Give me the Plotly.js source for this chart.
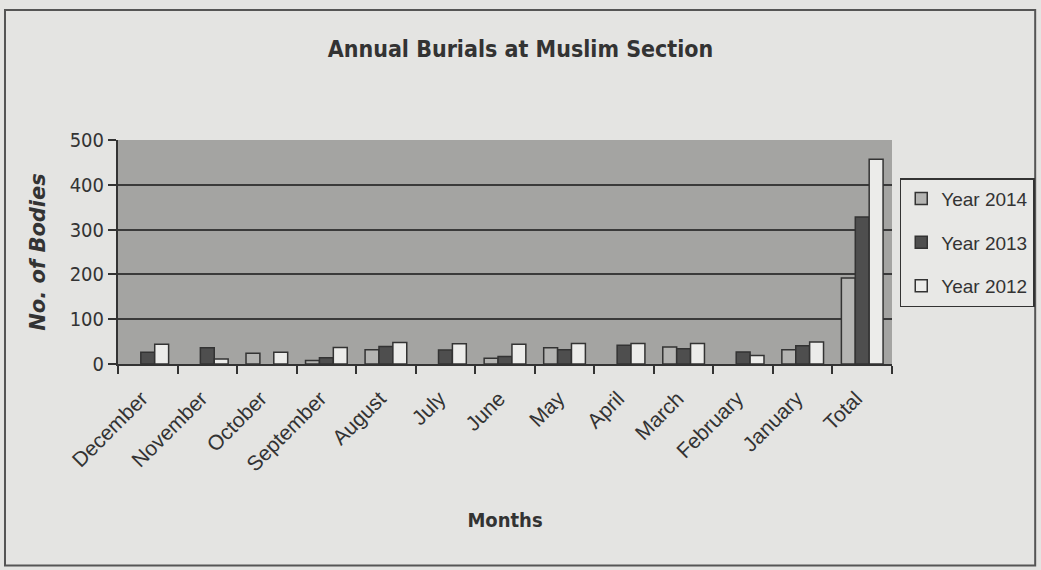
<!DOCTYPE html>
<html>
<head>
<meta charset="utf-8">
<script src="https://cdn.plot.ly/plotly-3.0.1.min.js"></script>
<style>html,body{margin:0;padding:0;background:#e4e4e2;}</style>
</head>
<body>
<div id="chart" style="width:1041px;height:570px;"></div>
<script>
var categories = ["December","November","October","September","August","July","June","May","April","March","February","January","Total"];
var year2014 = [null, null, 24, 8, 32, null, 13, 36, null, 38, null, 32, 192];
var year2013 = [26, 36, null, 14, 39, 31, 17, 32, 42, 34, 27, 41, 328];
var year2012 = [44, 11, 26, 37, 48, 45, 44, 46, 46, 46, 19, 49, 457];
var seriesNames = ["Year 2014", "Year 2013", "Year 2012"];
var seriesColors = ["#b4b4b2", "#4e4e4e", "#ececea"];
var yTicks = [0, 100, 200, 300, 400, 500];

var allSeries = [year2014, year2013, year2012];
var traces = allSeries.map(function (vals, i) {
  return {
    type: "bar",
    name: seriesNames[i],
    legendgroup: "g" + i,
    x: categories,
    y: vals,
    marker: { color: seriesColors[i], line: { color: "#333333", width: 1.5 } }
  };
});

var narrow = "DejaVu Sans Condensed, Liberation Sans Narrow, Arial Narrow, sans-serif";
var layout = {
  width: 1041,
  height: 570,
  paper_bgcolor: "#e4e4e2",
  plot_bgcolor: "#a4a4a2",
  margin: { l: 118, r: 149, t: 140, b: 206, autoexpand: false },
  barmode: "group",
  bargap: 0.3,
  bargroupgap: 0,
  title: {
    text: "<b>Annual Burials at Muslim Section</b>",
    font: { family: narrow, size: 23, color: "#333333" },
    x: 0.5, xanchor: "center", y: 0.915, yanchor: "middle"
  },
  xaxis: {
    type: "category",
    tickangle: -45,
    tickson: "boundaries",
    tickfont: { family: "Liberation Sans, Arial, sans-serif", size: 21, color: "#333333" },
    ticks: "outside", ticklen: 8, tickcolor: "#333333", tickwidth: 2,
    ticklabelstandoff: 12,
    ticklabelshift: -6,
    showline: true, linecolor: "#333333", linewidth: 2,
    showgrid: false,
    automargin: false,
    title: { text: "<b>Months</b>", font: { family: narrow, size: 20, color: "#333333" }, standoff: 38 }
  },
  yaxis: {
    range: [0, 500],
    tickvals: yTicks,
    tickfont: { family: narrow, size: 20, color: "#333333" },
    ticks: "outside", ticklen: 8, tickcolor: "#333333", tickwidth: 2,
    showline: true, linecolor: "#333333", linewidth: 2,
    showgrid: true, gridcolor: "#3a3a3a", gridwidth: 2,
    zeroline: false,
    automargin: false,
    title: { text: "<b><i>No. of Bodies</i></b>", font: { family: "DejaVu Sans, sans-serif", size: 21, color: "#333333" }, standoff: 18 }
  },
  legend: {
    x: 1.01, xanchor: "left", y: 0.83, yanchor: "top",
    bgcolor: "#e8e8e6", bordercolor: "#333333", borderwidth: 1.5,
    font: { family: "Liberation Sans, Arial, sans-serif", size: 19, color: "#333333" },
    traceorder: "grouped",
    tracegroupgap: 16,
    itemwidth: 30
  },
  shapes: [
    { type: "rect", xref: "paper", yref: "paper", x0: -0.146, x1: 1.185, y0: -0.9, y1: 1.58, line: { color: "#555555", width: 2 }, fillcolor: "rgba(0,0,0,0)", layer: "below" }
  ]
};

Plotly.newPlot("chart", traces, layout, { displayModeBar: false, staticPlot: true });
</script>
</body>
</html>
